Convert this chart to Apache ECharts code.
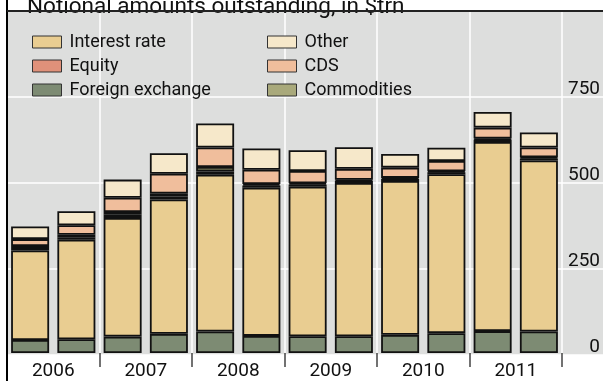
<!DOCTYPE html>
<html>
<head>
<meta charset="utf-8">
<script src="https://cdn.jsdelivr.net/npm/echarts@6/dist/echarts.min.js"></script>
<style>
html,body{margin:0;padding:0;background:#fff;}
#chart{width:603px;height:381px;}
</style>
</head>
<body>
<div id="chart"></div>
<script>
// ---- data (notional amounts outstanding, $trn) ----
const years = ['2006', '2007', '2008', '2009', '2010', '2011'];
const periods = ['2006 H1', '2006 H2', '2007 H1', '2007 H2', '2008 H1', '2008 H2',
                 '2009 H1', '2009 H2', '2010 H1', '2010 H2', '2011 H1', '2011 H2'];
const foreignExchange = [38, 40, 48, 56, 63, 50, 49, 49, 53, 58, 64, 63];
const interestRate    = [262, 291, 347, 393, 458, 433, 437, 448, 450, 465, 553, 500];
const equity          = [7, 7.5, 9, 8.5, 10, 6.5, 6.5, 6.5, 6, 5.5, 7, 6];
const commodities     = [6, 7, 8, 8.5, 13, 4.5, 3.5, 3, 3, 3, 3, 3];
const cds             = [20, 28, 42, 58, 57, 42, 36, 32, 30, 30, 32, 29];
const other           = [37, 41, 53, 60, 70, 62, 61, 63, 40, 39, 46, 44];
const yTickLabels = ['0', '250', '500', '750'];
const titleText = 'Notional amounts outstanding, in $trn';

const colors = {
  'Foreign exchange': '#7d8b73',
  'Interest rate': '#e9cd91',
  'Equity': '#e0917a',
  'Commodities': '#a9a97b',
  'CDS': '#f0be9c',
  'Other': '#f6e8ca'
};
const seriesDefs = [
  ['Foreign exchange', foreignExchange],
  ['Interest rate', interestRate],
  ['Equity', equity],
  ['Commodities', commodities],
  ['CDS', cds],
  ['Other', other]
];

const FONT = 'Roboto';
const chart = echarts.init(document.getElementById('chart'), null, {renderer: 'canvas'});

const legendCommon = {
  orient: 'vertical',
  top: 27,
  padding: 5,
  itemWidth: 29,
  itemHeight: 12,
  itemGap: 4,
  icon: 'rect',
  itemStyle: {borderColor: '#333', borderWidth: 1},
  textStyle: {fontFamily: FONT, fontSize: 18, color: '#111', lineHeight: 20, padding: [0, 0, 0, 3]}
};

const option = {
  animation: false,
  backgroundColor: '#fff',
  grid: [
    {left: 7, right: 41, top: 11, bottom: 26, containLabel: false},
    {left: 7, right: 0, top: 11, bottom: 26, show: true, backgroundColor: '#dddedd', borderWidth: 0}
  ],
  legend: [
    Object.assign({left: 27, data: ['Interest rate', 'Equity', 'Foreign exchange']}, legendCommon),
    Object.assign({left: 262, data: ['Other', 'CDS', 'Commodities']}, legendCommon)
  ],
  xAxis: [
    {
      type: 'category', gridIndex: 0, data: periods, show: false
    },
    {
      type: 'category', gridIndex: 0, data: years, position: 'bottom',
      boundaryGap: true,
      axisLine: {show: false},
      axisTick: {show: true, length: 14, lineStyle: {color: '#444', width: 1.5}},
      axisLabel: {fontFamily: FONT, fontSize: 19, color: '#111', margin: 9},
      splitLine: {show: true, lineStyle: {color: '#ffffff', width: 1.5}}
    },
    {
      type: 'value', gridIndex: 1, show: false, min: 0, max: 1
    }
  ],
  yAxis: [
    {
      type: 'value', gridIndex: 0, min: 0, max: 1000, interval: 250, show: false,
      splitLine: {show: false}
    },
    {
      type: 'value', gridIndex: 1, min: 0, max: 1000, interval: 250, position: 'right',
      axisLine: {show: false}, axisTick: {show: false},
      splitLine: {show: true, lineStyle: {color: '#ffffff', width: 1.5}},
      axisLabel: {
        inside: true, margin: 3, fontFamily: FONT, fontSize: 19, color: '#111',
        verticalAlign: 'bottom', lineHeight: 19, padding: [0, 0, -2, 0],
        formatter: function (v) { const i = v / 250; return i < yTickLabels.length ? yTickLabels[i] : ''; }
      }
    }
  ],
  series: seriesDefs.map(function (d) {
    return {
      name: d[0], type: 'bar', stack: 'total', xAxisIndex: 0, yAxisIndex: 0,
      data: d[1], barWidth: 38,
      itemStyle: {color: colors[d[0]], borderColor: '#111', borderWidth: 1.8}
    };
  }),
  graphic: [
    {type: 'line', z: 100, shape: {x1: 7, y1: 0, x2: 7, y2: 381}, style: {stroke: '#000', lineWidth: 2}},
    {type: 'line', z: 100, shape: {x1: 7, y1: 11, x2: 603, y2: 11}, style: {stroke: '#222', lineWidth: 2}},
    {type: 'text', z: 99, x: 27, y: 19,
     style: {text: titleText, font: '22.5px ' + FONT, fill: '#111', textVerticalAlign: 'bottom', verticalAlign: 'bottom'}}
  ]
};
chart.setOption(option);
</script>
</body>
</html>
